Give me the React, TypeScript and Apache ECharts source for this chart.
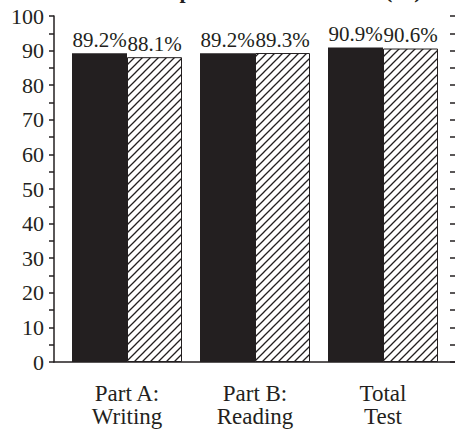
import React, { useEffect, useRef } from "react";
import * as echarts from "echarts";

const categories = ["Part A:\nWriting", "Part B:\nReading", "Total\nTest"];
const seriesSolid = [89.2, 89.2, 90.9];
const seriesHatched = [88.1, 89.3, 90.6];
const titleText = "Comparison of Pass Rates (%)";

const INK = "#231f20";
const FONT = "Liberation Serif";

function makePattern(): HTMLCanvasElement {
  const c = document.createElement("canvas");
  const s = 8;
  c.width = s;
  c.height = s;
  const ctx = c.getContext("2d")!;
  ctx.fillStyle = "#ffffff";
  ctx.fillRect(0, 0, s, s);
  ctx.strokeStyle = INK;
  ctx.lineWidth = 1.3;
  ctx.beginPath();
  ctx.moveTo(-1, s + 1);
  ctx.lineTo(s + 1, -1);
  ctx.moveTo(-1, 1);
  ctx.lineTo(1, -1);
  ctx.moveTo(s - 1, s + 1);
  ctx.lineTo(s + 1, s - 1);
  ctx.stroke();
  return c;
}

export default function App() {
  const ref = useRef<HTMLDivElement>(null);
  useEffect(() => {
    const chart = echarts.init(ref.current!, null, { renderer: "svg" });
    const pattern = makePattern();
    const labelCommon = {
      show: true,
      position: "top" as const,
      distance: 3,
      fontFamily: FONT,
      fontSize: 21,
      color: INK,
      formatter: (p: any) => p.value.toFixed(1) + "%",
    };
    chart.setOption({
      animation: false,
      backgroundColor: "#ffffff",
      textStyle: { fontFamily: FONT },
      graphic: [
        {
          type: "text",
          x: 278,
          y: -10,
          z: 100,
          style: {
            text: titleText,
            fontFamily: FONT,
            fontWeight: "bold",
            fontSize: 22,
            fill: INK,
            align: "center",
            verticalAlign: "middle",
          },
        },
      ],
      grid: [
        { left: 63, right: 8, top: 16, bottom: 68 },
        { left: 54, right: 0, top: 16, bottom: 68 },
      ],
      xAxis: [
        {
          type: "category",
          gridIndex: 0,
          data: categories,
          axisLine: { show: false },
          axisTick: { show: false },
          axisLabel: {
            fontFamily: FONT,
            fontSize: 23,
            lineHeight: 23,
            color: INK,
            margin: 20,
          },
        },
        {
          type: "value",
          gridIndex: 1,
          min: 0,
          max: 1,
          axisLine: { show: true, lineStyle: { color: INK, width: 1.5 } },
          axisTick: { show: false },
          axisLabel: { show: false },
          splitLine: { show: false },
        },
      ],
      yAxis: [
        {
          type: "value",
          gridIndex: 0,
          min: 0,
          max: 100,
          show: false,
        },
        {
          type: "value",
          gridIndex: 1,
          min: 0,
          max: 100,
          interval: 5,
          axisLine: { show: true, lineStyle: { color: INK, width: 1.5 } },
          axisTick: { show: true, length: 5, lineStyle: { color: INK, width: 1.5 } },
          axisLabel: {
            fontFamily: FONT,
            fontSize: 22,
            color: INK,
            margin: 10,
            formatter: (v: number) => (v % 10 === 0 ? String(v) : ""),
          },
          splitLine: { show: false },
        },
        {
          type: "value",
          gridIndex: 1,
          min: 0,
          max: 100,
          interval: 5,
          axisLine: { show: false },
          axisTick: { show: true, inside: true, length: 5, lineStyle: { color: INK, width: 1.5 } },
          axisLabel: { show: false },
          splitLine: { show: false },
        },
      ],
      series: [
        {
          type: "bar",
          xAxisIndex: 0,
          yAxisIndex: 0,
          data: seriesSolid,
          barWidth: 55,
          barGap: "0%",
          itemStyle: { color: INK },
          label: labelCommon,
        },
        {
          type: "bar",
          xAxisIndex: 0,
          yAxisIndex: 0,
          data: seriesHatched,
          barWidth: 55,
          barGap: "0%",
          itemStyle: {
            color: { image: pattern, repeat: "repeat" },
            borderColor: INK,
            borderWidth: 1,
          },
          label: labelCommon,
        },
      ],
    });
    return () => chart.dispose();
  }, []);
  return (
    <div
      ref={ref}
      style={{ position: "fixed", left: 0, top: 0, width: 455, height: 430 }}
    />
  );
}
